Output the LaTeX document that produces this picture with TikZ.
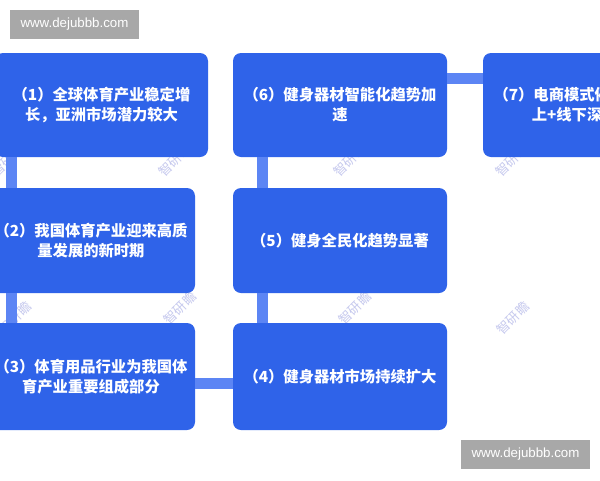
\documentclass[tikz,border=0pt]{standalone}
\usepackage{fontspec}
\setmainfont{Noto Sans CJK SC}
\newfontfamily\urlfont{Liberation Sans}
\definecolor{boxblue}{HTML}{2F63E9}
\definecolor{linkblue}{HTML}{5C85F4}
\definecolor{wmgray}{HTML}{A8A8A8}
\definecolor{wmtext}{HTML}{C6C9EE}
\tikzset{
  stepbox/.style={rectangle, rounded corners=8pt, fill=boxblue, draw=none,
    text=white, align=center, inner sep=0pt,
    font=\fontsize{15.3}{20}\selectfont\bfseries},
  conn/.style={draw=linkblue, line width=11pt},
  urlbox/.style={rectangle, fill=wmgray, text=white, inner sep=0pt,
    minimum width=129pt, minimum height=29pt,
    font=\urlfont\fontsize{13.3}{15}\selectfont},
  wmark/.style={text=wmtext, rotate=45, inner sep=0pt,
    font=\fontsize{13}{15}\selectfont}
}
\begin{document}
\begin{tikzpicture}[x=1pt,y=-1pt]
\fill[white] (0,0) rectangle (600,480);
\clip (0,0) rectangle (600,480);
% faint watermark text
\node[wmark] (w1) at (8,160) {智研瞻};
\node[wmark] (w2) at (175,160) {智研瞻};
\node[wmark] (w3) at (350,160) {智研瞻};
\node[wmark] (w4) at (512,160) {智研瞻};
\node[wmark] (w5) at (15,318) {智研瞻};
\node[wmark] (w6) at (180,308) {智研瞻};
\node[wmark] (w7) at (355,308) {智研瞻};
\node[wmark] (w8) at (513,318) {智研瞻};
\coordinate (lx) at (11,0);
\coordinate (mx) at (262,0);
% boxes
\node[stepbox, minimum width=213pt, minimum height=104pt] (b1) at (101.5,105)
  {（1）全球体育产业稳定增\\长，亚洲市场潜力较大};
\node[stepbox, minimum width=208pt, minimum height=105pt] (b2) at (91,240.5)
  {（2）我国体育产业迎来高质\\量发展的新时期};
\node[stepbox, minimum width=208pt, minimum height=107pt] (b3) at (91,376.5)
  {（3）体育用品行业为我国体\\育产业重要组成部分};
\node[stepbox, minimum width=214pt, minimum height=107pt] (b4) at (340,376.5)
  {（4）健身器材市场持续扩大};
\node[stepbox, minimum width=214pt, minimum height=105pt] (b5) at (340,240.5)
  {（5）健身全民化趋势显著};
\node[stepbox, minimum width=214pt, minimum height=104pt] (b6) at (340,105)
  {（6）健身器材智能化趋势加\\速};
\node[stepbox, minimum width=214pt, minimum height=104pt] (b7) at (590,105)
  {（7）电商模式催化发展，线\\上+线下深度融合};
% connectors between boxes
\draw[conn] (b1.south -| lx) -- (b2.north -| lx);
\draw[conn] (b2.south -| lx) -- (b3.north -| lx);
\draw[conn] (b3.east |- 0,383) -- (b4.west |- 0,383);
\draw[conn] (b4.north -| mx) -- (b5.south -| mx);
\draw[conn] (b5.north -| mx) -- (b6.south -| mx);
\draw[conn] (b6.east |- 0,78) -- (b7.west |- 0,78);
% site stamps
\node[urlbox] (u1) at (74.5,24.5) {www.dejubbb.com};
\node[urlbox] (u2) at (525.5,454.5) {www.dejubbb.com};
\end{tikzpicture}
\end{document}
